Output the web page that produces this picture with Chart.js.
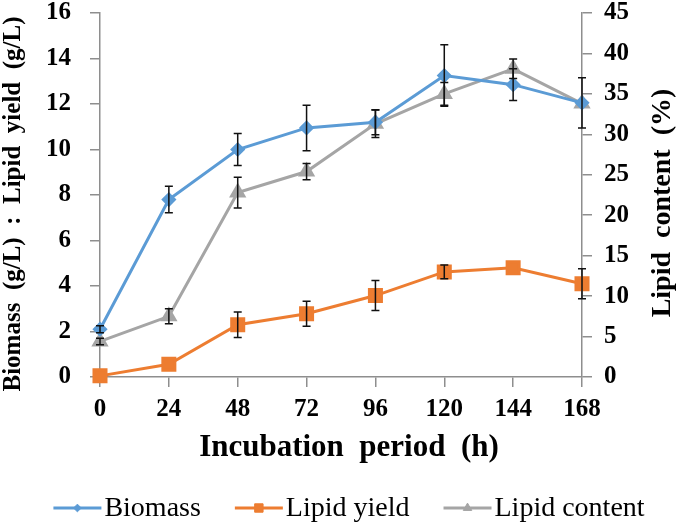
<!DOCTYPE html>
<html>
<head>
<meta charset="utf-8">
<script src="https://cdn.jsdelivr.net/npm/chart.js@4.4.1/dist/chart.umd.min.js"></script>
<style>
  html, body { margin: 0; padding: 0; background: #fff; }
  canvas { display: block; }
</style>
</head>
<body>
<canvas id="chart" width="685" height="524"></canvas>
<script>
// values
const hours = [0, 24, 48, 72, 96, 120, 144, 168];
const biomass = [2.1, 7.8, 10.0, 10.95, 11.2, 13.25, 12.85, 12.05];
const biomassErr = [0.15, 0.58, 0.7, 1.0, 0.55, 1.35, 0.7, 1.1];
const lipidYield = [0.05, 0.56, 2.3, 2.78, 3.58, 4.62, 4.8, 4.1];
const lipidYieldErr = [0, 0, 0.56, 0.55, 0.66, 0.3, 0, 0.66];
const lipidContent = [4.4, 7.5, 22.8, 25.4, 31.3, 35.0, 38.1, 33.8];
const lipidContentErr = [0.4, 0.93, 1.9, 1.0, 1.7, 1.4, 1.2, 0];

const leftTicks = [0, 2, 4, 6, 8, 10, 12, 14, 16];
const rightTicks = [0, 5, 10, 15, 20, 25, 30, 35, 40, 45];

const serif = "'Liberation Serif', 'Times New Roman', serif";
const axisGray = "#8e8e8e";

function pts(ys) {
    return hours.map((h, i) => ({ x: h, y: ys[i] }));
}

const errorBars = {
    id: "errorBars",
    afterDatasetsDraw(chart) {
        const ctx = chart.ctx;
        const xs = chart.scales.x;
        ctx.save();
        ctx.strokeStyle = "#111";
        ctx.lineWidth = 1.5;
        chart.data.datasets.forEach(ds => {
            const ys = chart.scales[ds.yAxisID];
            ds.data.forEach((p, i) => {
                const e = ds.errors[i];
                if (!e) return;
                const px = xs.getPixelForValue(p.x);
                const top = ys.getPixelForValue(p.y + e);
                const bot = ys.getPixelForValue(p.y - e);
                ctx.beginPath();
                ctx.moveTo(px, top); ctx.lineTo(px, bot);
                ctx.moveTo(px - 4, top); ctx.lineTo(px + 4, top);
                ctx.moveTo(px - 4, bot); ctx.lineTo(px + 4, bot);
                ctx.stroke();
            });
        });
        ctx.restore();
    }
};

const titlesAndLegend = {
    id: "titlesAndLegend",
    afterDraw(chart) {
        const ctx = chart.ctx;
        ctx.save();
        ctx.fillStyle = "#000";
        ctx.textAlign = "center";
        ctx.textBaseline = "middle";

        // left axis title
        ctx.save();
        ctx.translate(14, 204);
        ctx.rotate(-Math.PI / 2);
        ctx.font = "bold 25px " + serif;
        ctx.fillText("Biomass  (g/L)  :  Lipid  yield  (g/L)", 0, 0);
        ctx.restore();

        // right axis title
        ctx.save();
        ctx.translate(663, 203);
        ctx.rotate(-Math.PI / 2);
        ctx.font = "bold 28px " + serif;
        ctx.fillText("Lipid  content  (%)", 0, 0);
        ctx.restore();

        // x axis title
        ctx.font = "bold 31px " + serif;
        ctx.fillText("Incubation  period  (h)", 349, 448);

        // legend
        ctx.font = "28px " + serif;
        const lineLen = 48, gapText = 3, gapItem = 34, ly = 508;
        const items = chart.data.datasets.map(ds => ({ ds, w: ctx.measureText(ds.label).width }));
        let total = 0;
        items.forEach((it, i) => { total += lineLen + gapText + it.w + (i ? gapItem : 0); });
        let x = 349 - total / 2;
        items.forEach((it, i) => {
            if (i) x += gapItem;
            const ds = it.ds;
            ctx.strokeStyle = ds.borderColor;
            ctx.fillStyle = ds.backgroundColor;
            ctx.lineWidth = 3;
            ctx.beginPath();
            ctx.moveTo(x, ly); ctx.lineTo(x + lineLen, ly);
            ctx.stroke();
            ctx.lineWidth = 1;
            Chart.helpers.drawPoint(ctx, {
                pointStyle: ds.pointStyle,
                radius: ds.pointRadius * 0.7,
                borderWidth: 1
            }, x + lineLen / 2, ly);
            ctx.fillStyle = "#000";
            ctx.textAlign = "left";
            ctx.fillText(ds.label, x + lineLen + gapText, ly + 1);
            x += lineLen + gapText + it.w;
        });
        ctx.restore();
    }
};

// fixed box sizes so the plot area lands where it does in the figure
function fitY(width) {
    return s => {
        s.width = width;
        s.paddingTop = 0;
        s.paddingBottom = 0;
    };
}

new Chart(document.getElementById("chart"), {
    type: "line",
    data: {
        datasets: [
            {
                label: "Biomass",
                data: pts(biomass),
                errors: biomassErr,
                yAxisID: "y",
                borderColor: "#5B9BD5",
                backgroundColor: "#5B9BD5",
                pointStyle: "rectRot",
                pointRadius: 5.5,
                borderWidth: 3,
                clip: false
            },
            {
                label: "Lipid yield",
                data: pts(lipidYield),
                errors: lipidYieldErr,
                yAxisID: "y",
                borderColor: "#ED7D31",
                backgroundColor: "#ED7D31",
                pointStyle: "rect",
                pointRadius: 8.5,
                borderWidth: 3,
                clip: false
            },
            {
                label: "Lipid content",
                data: pts(lipidContent),
                errors: lipidContentErr,
                yAxisID: "y1",
                borderColor: "#A5A5A5",
                backgroundColor: "#A5A5A5",
                pointStyle: "triangle",
                pointRadius: 7,
                borderWidth: 3,
                clip: false
            }
        ]
    },
    options: {
        responsive: false,
        devicePixelRatio: 1,
        animation: false,
        layout: { padding: { top: 13, left: 0, right: 0, bottom: 0 } },
        plugins: { legend: { display: false }, tooltip: { enabled: false } },
        elements: { line: { tension: 0 }, point: { borderWidth: 1 } },
        scales: {
            x: {
                type: "linear",
                min: 0,
                max: 168,
                afterBuildTicks: s => { s.ticks = hours.map(v => ({ value: v })); },
                ticks: { color: "#000", font: { family: serif, size: 25, weight: "bold" }, padding: 8 },
                grid: { drawOnChartArea: false, tickLength: 10, color: axisGray, lineWidth: 1.5 },
                border: { color: axisGray, width: 1.5 },
                afterFit: s => { s.height = 147; }
            },
            y: {
                position: "left",
                min: 0,
                max: 16,
                afterBuildTicks: s => { s.ticks = leftTicks.map(v => ({ value: v })); },
                ticks: { color: "#000", font: { family: serif, size: 25, weight: "bold" }, padding: 19 },
                grid: { drawOnChartArea: false, tickLength: 10, color: axisGray, lineWidth: 1.5 },
                border: { color: axisGray, width: 1.5 },
                afterFit: fitY(100)
            },
            y1: {
                position: "right",
                min: 0,
                max: 45,
                afterBuildTicks: s => { s.ticks = rightTicks.map(v => ({ value: v })); },
                ticks: { color: "#000", font: { family: serif, size: 25, weight: "bold" }, padding: 12 },
                grid: { drawOnChartArea: false, tickLength: 10, color: axisGray, lineWidth: 1.5 },
                border: { color: axisGray, width: 1.5 },
                afterFit: fitY(103)
            }
        }
    },
    plugins: [errorBars, titlesAndLegend]
});
</script>
</body>
</html>
